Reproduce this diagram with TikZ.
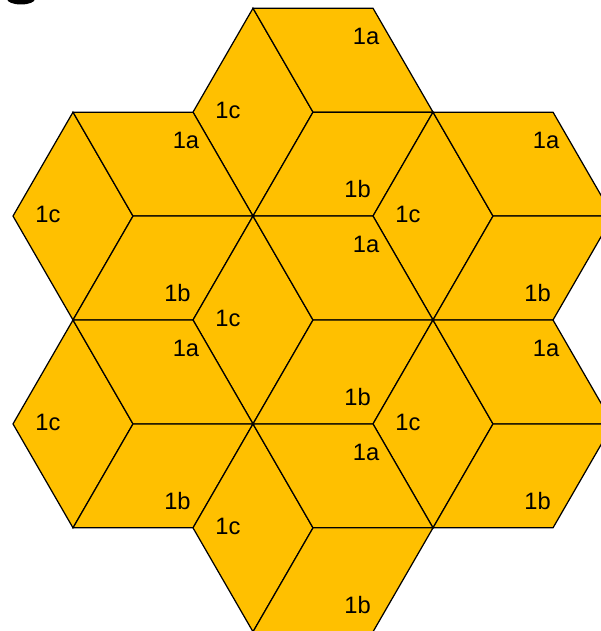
\documentclass[tikz,border=0pt]{standalone}
\usepackage{fontspec}
\setmainfont{Liberation Sans}
\definecolor{tilegold}{RGB}{255,192,0}

\begin{document}
\begin{tikzpicture}[
        tile/.style={fill=tilegold, draw=black, line width=0.7pt, line join=miter},
        tilelabel/.style={font=\fontsize{13.5}{16}\selectfont, inner sep=0pt}
    ]

        \useasboundingbox (0, 0) rectangle (12.02, 12.62);
        \clip (0, 0) rectangle (12.02, 12.62);

        % cut-off black glyph in the upper left corner
        \fill[black] (0.42, 12.64) ellipse [x radius=0.28, y radius=0.11];

        \foreach \dx/\dy/\n in {0/2/1, -1/1/2, 1/1/3, 0/0/4, -1/-1/5, 1/-1/6, 0/-2/7} {
            \begin{scope}[shift={(6.26 + 3.6*\dx, 6.22 + 2.0785*\dy)}]
                \coordinate (C\n) at (0, 0);
                \coordinate (L\n) at (-2.4, 0);
                \coordinate (R\n) at (2.4, 0);
                \coordinate (TL\n) at (-1.2, 2.0785);
                \coordinate (TR\n) at (1.2, 2.0785);
                \coordinate (BL\n) at (-1.2, -2.0785);
                \coordinate (BR\n) at (1.2, -2.0785);

                \filldraw[tile] (L\n) -- (TL\n) -- (C\n) -- (BL\n) -- cycle;
                \filldraw[tile] (TL\n) -- (TR\n) -- (R\n) -- (C\n) -- cycle;
                \filldraw[tile] (C\n) -- (R\n) -- (BR\n) -- (BL\n) -- cycle;

                \node[tilelabel] (c\n) at (-1.70, 0.03) {1c};
                \node[tilelabel] (a\n) at (1.06, 1.51) {1a};
                \node[tilelabel] (b\n) at (0.89, -1.54) {1b};
            \end{scope}
        }
    \end{tikzpicture}
\end{document}
